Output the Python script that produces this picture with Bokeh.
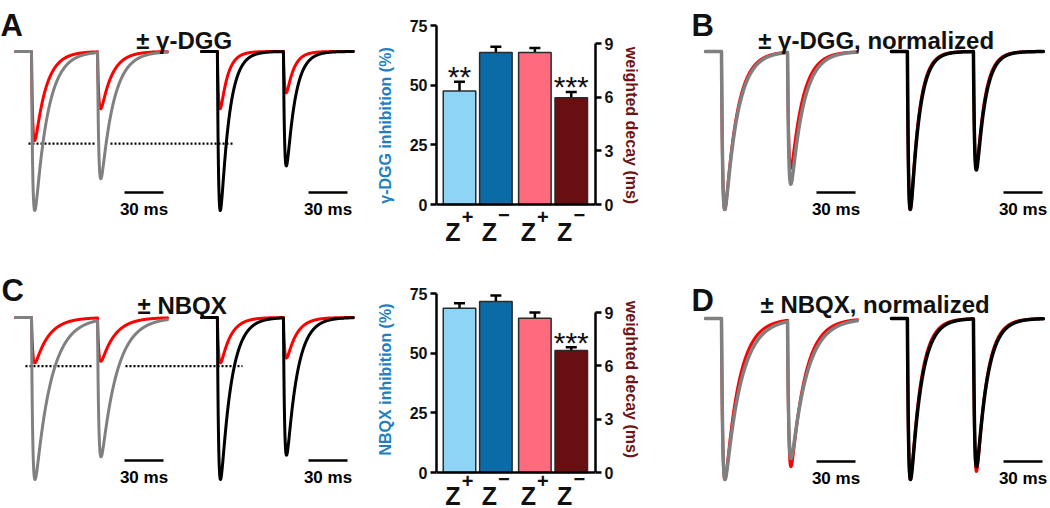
import numpy as np
from bokeh.plotting import figure
from bokeh.models import Range1d, LinearAxis, FixedTicker, Label, ColumnDataSource, Span
from bokeh.layouts import row, column
from bokeh.embed import file_html
from bokeh.resources import INLINE
from bokeh.core.properties import value

FONT = "Liberation Sans"

# ---------------- trace data (peaks normalised to control 1st EPSC) ----------------
# order: Z+ control, Z+ drug, Z- control, Z- drug
trace_colors = ["#808080", "#ff0000", "#000000", "#ff0000"]
stim_times = [12.3, 63.1]      # ms from sweep start
sweep_len = 117.0              # ms
set_offset = 143.0             # ms between Z+ and Z- sweeps on the page
rise_tau = 1.0                 # ms
scale_bar_ms = 30

A_peak1 = [1.00, 0.56, 1.00, 0.36]
A_peak2 = [0.80, 0.36, 0.72, 0.26]
A_tau = [9.5, 8.5, 6.5, 5.5]
A_dotted = -0.58

B_peak1 = [1.00, 1.00, 1.00, 1.00]
B_peak2 = [0.84, 0.74, 0.75, 0.73]
B_tau = [9.5, 9.0, 6.5, 6.2]

C_peak1 = [1.00, 0.28, 1.00, 0.28]
C_peak2 = [0.86, 0.27, 0.85, 0.25]
C_tau = [12.0, 10.5, 8.0, 7.5]
C_dotted = -0.30

D_peak1 = [1.00, 1.00, 1.00, 1.00]
D_peak2 = [0.87, 0.92, 0.92, 0.95]
D_tau = [12.0, 10.5, 8.0, 7.5]

# ---------------- bar data ----------------
bar_colors = ["#8dd4f6", "#0a6ba6", "#ff6a7e", "#6a0f11"]
bar_pos = [1.0, 1.97, 3.01, 3.98]
dgg_inhibition = [47.6, 63.7]
dgg_inhibition_err = [3.8, 2.4]
dgg_decay = [8.50, 5.97]
dgg_decay_err = [0.25, 0.32]
dgg_stars = ["**", "", "", "***"]

nbqx_inhibition = [68.8, 71.6]
nbqx_inhibition_err = [2.1, 2.6]
nbqx_decay = [8.68, 6.86]
nbqx_decay_err = [0.32, 0.18]
nbqx_stars = ["", "", "", "***"]

# ---------------- page geometry ----------------
col_w = [372, 280, 398]
row_h = [250, 258]


def epsc_shape(t, tau_d, tau_r=rise_tau):
    tp = np.log(tau_d / tau_r) * tau_d * tau_r / (tau_d - tau_r)
    norm = np.exp(-tp / tau_d) - np.exp(-tp / tau_r)
    tt = np.clip(t, 0, None)
    y = (np.exp(-tt / tau_d) - np.exp(-tt / tau_r)) / norm
    return np.where(t > 0, y, 0.0), tp


def sweep(p1, p2, tau):
    t = np.arange(0.0, sweep_len, 0.1)
    s1, s2 = stim_times
    e1, tp = epsc_shape(t - s1, tau)
    r, _ = epsc_shape(np.array([s2 - s1 + tp]), tau)
    e2, _ = epsc_shape(t - s2, tau)
    y = -p1 * e1 - (p2 - p1 * r[0]) * e2
    return t, y


def base_fig(w, h, xr, yr, **kw):
    p = figure(width=w, height=h, x_range=xr, y_range=yr,
               x_axis_location=None, y_axis_location=None,
               toolbar_location=None, output_backend="svg",
               outline_line_color=None, **kw)
    p.grid.visible = False
    p.background_fill_color = "white"
    p.border_fill_color = "white"
    return p


def trace_panel(box, w, h, ox, oy, ky, peak1, peak2, tau, order, letter, title,
                title_x, title_y, letter_x, letter_y, bars_x, bar_y, dotted=None,
                lw=(3, 3, 3, 3), kx=1.3):
    X0, Y0, X1, Y1 = box
    p = base_fig(w, h, Range1d((X0 - ox) / kx, (X1 - ox) / kx),
                 Range1d((oy - Y1) / ky, (oy - Y0) / ky), min_border=0)
    tx = lambda rx: (rx - ox) / kx
    ty = lambda ry: (oy - ry) / ky

    if dotted is not None:
        level, segs = dotted
        p.segment(x0=[tx(a) for a, b in segs], x1=[tx(b) for a, b in segs],
                  y0=[level] * len(segs), y1=[level] * len(segs),
                  line_color="black", line_width=2.2, line_dash="2 2")

    for i in order:
        t, y = sweep(peak1[i], peak2[i], tau[i])
        if i >= 2:
            t = t + set_offset
        p.line(t, y, line_color=trace_colors[i], line_width=lw[i],
               line_join="round", line_cap="round")

    for bx in bars_x:
        x0 = tx(bx)
        p.segment(x0=[x0], x1=[x0 + scale_bar_ms], y0=[ty(bar_y)], y1=[ty(bar_y)],
                  line_color="black", line_width=2.5)
        p.add_layout(Label(x=x0 + scale_bar_ms / 2, y=ty(bar_y + 17), text="30 ms",
                           text_font=FONT, text_font_style="bold", text_font_size="17px",
                           text_color="black",
                           text_align="center", text_baseline="alphabetic"))

    p.add_layout(Label(x=tx(letter_x), y=ty(letter_y), text=letter, text_font=FONT,
                       text_font_style="bold", text_font_size="31px", text_color="#111111",
                       text_align="left", text_baseline="alphabetic"))
    p.add_layout(Label(x=tx(title_x), y=ty(title_y), text=title, text_font=FONT,
                       text_font_style="bold", text_font_size="24px", text_color="#111111",
                       text_align="center", text_baseline="alphabetic"))
    return p


def bar_panel(box, w, h, axis_left, axis_right, y0_ref, y75_ref, y9_ref, inhib, inhib_err,
              decay, decay_err, stars, ylabel, z_dy):
    X0, Y0, X1, Y1 = box
    bl = axis_left - X0
    fw = axis_right - axis_left
    br = w - bl - fw
    unit = 37.5
    xr0 = bar_pos[0] - 23 / unit
    xr1 = xr0 + fw / unit
    upd = 75.0 / (y0_ref - y75_ref)          # inhibition units per pixel
    dpd = 9.0 / (y0_ref - y9_ref)            # decay units per pixel
    p = base_fig(w, h, Range1d(xr0, xr1),
                 Range1d(-(Y1 - y0_ref) * upd, (y0_ref - Y0) * upd),
                 min_border_left=bl, min_border_right=br, min_border_top=0,
                 min_border_bottom=0)
    p.extra_y_ranges = {"decay": Range1d(-(Y1 - y0_ref) * dpd, (y0_ref - Y0) * dpd)}
    bw = 0.867

    src_l = ColumnDataSource(dict(x=bar_pos[:2], top=inhib,
                                  err=[a + b for a, b in zip(inhib, inhib_err)],
                                  color=bar_colors[:2], star=stars[:2]))
    src_r = ColumnDataSource(dict(x=bar_pos[2:], top=decay,
                                  err=[a + b for a, b in zip(decay, decay_err)],
                                  color=bar_colors[2:], star=stars[2:]))
    for src, rn in ((src_l, "default"), (src_r, "decay")):
        p.segment(x0="x", x1="x", y0="top", y1="err", source=src, line_color="black",
                  line_width=2.5, y_range_name=rn)
        p.scatter(x="x", y="err", source=src, marker="dash", size=11, line_color="black",
                  line_width=2.5, y_range_name=rn)
        p.vbar(x="x", top="top", bottom=0, width=bw, source=src, fill_color="color",
               line_color="#2a2a2a", line_width=1.5, y_range_name=rn)
        p.text(x="x", y="err", text="star", source=src, text_font=value(FONT),
               text_font_size="30px", text_align="center", text_color="#111111",
               text_baseline="alphabetic", y_offset=-5, y_range_name=rn)

    p.add_layout(Span(location=0, dimension="width", line_color="black", line_width=2.5))

    ya = LinearAxis(ticker=FixedTicker(ticks=[0, 25, 50, 75]), bounds=(0, 75),
                    axis_label=ylabel)
    ya.axis_label_text_color = "#1f7fbf"
    ya.axis_label_standoff = 13
    p.add_layout(ya, "left")
    ra = LinearAxis(y_range_name="decay", ticker=FixedTicker(ticks=[0, 3, 6, 9]),
                    bounds=(0, 9), axis_label="weighted decay (ms)")
    ra.axis_label_text_color = "#6e1414"
    ra.axis_label_standoff = 7
    p.add_layout(ra, "right")
    for ax in (ya, ra):
        ax.axis_line_width = 2.5
        ax.axis_line_color = "black"
        ax.major_tick_out = 6
        ax.major_tick_in = 0
        ax.major_tick_line_width = 2.5
        ax.minor_tick_line_color = None
        ax.major_label_text_font = FONT
        ax.major_label_text_font_style = "bold"
        ax.major_label_text_font_size = "16px"
        ax.major_label_text_color = "#111111"
        ax.major_label_standoff = 3
        ax.axis_label_text_font = FONT
        ax.axis_label_text_font_style = "bold"
        ax.axis_label_text_font_size = "16px"

    # Z+ / Z- labels under the bars
    signs = ["+", "\u2212", "+", "\u2212"]
    zsrc = ColumnDataSource(dict(x=[b - 6.5 / unit for b in bar_pos],
                                 y=[-z_dy * upd] * 4, t=["Z"] * 4))
    ssrc = ColumnDataSource(dict(x=[b + 8 / unit for b in bar_pos],
                                 y=[-(z_dy - 15 if s == "+" else z_dy - 17) * upd for s in signs],
                                 t=signs))
    p.text(x="x", y="y", text="t", source=zsrc, text_font=value(FONT),
           text_font_size="25px", text_font_style="bold", text_align="center",
           text_color="#111111", text_baseline="alphabetic")
    p.text(x="x", y="y", text="t", source=ssrc, text_font=value(FONT),
           text_font_size="20px", text_font_style="bold", text_align="center",
           text_color="#111111", text_baseline="middle")
    return p


fA = trace_panel((0, 0, 372, 250), col_w[0], row_h[0], 15, 51, 159,
                 A_peak1, A_peak2, A_tau, [1, 0, 3, 2], "A", "\u00b1  \u03b3-DGG",
                 187, 40, 0, 25, [124, 308], 192,
                 dotted=(A_dotted, [(28, 95), (110, 232)]))
fbA = bar_panel((372, 0, 652, 250), col_w[1], row_h[0], 436, 595, 204, 25, 43,
                dgg_inhibition, dgg_inhibition_err, dgg_decay, dgg_decay_err, dgg_stars,
                "\u03b3-DGG inhibition (%)", 27)
fB = trace_panel((652, 0, 1050, 250), col_w[2], row_h[0], 705, 51, 158,
                 B_peak1, B_peak2, B_tau, [1, 0, 3, 2], "B", "\u00b1  \u03b3-DGG, normalized",
                 879, 40, 691, 25, [816, 1003], 192, lw=(3.5, 3, 3.5, 3))

fC = trace_panel((0, 250, 372, 508), col_w[0], row_h[1], 15, 317, 162,
                 C_peak1, C_peak2, C_tau, [1, 0, 3, 2], "C", "\u00b1  NBQX",
                 185, 305, 1, 290, [124, 308], 460,
                 dotted=(C_dotted, [(25, 92), (125, 242)]))
fbC = bar_panel((372, 250, 652, 508), col_w[1], row_h[1], 436, 595, 472, 293, 312,
                nbqx_inhibition, nbqx_inhibition_err, nbqx_decay, nbqx_decay_err, nbqx_stars,
                "NBQX inhibition (%)", 23)
fD = trace_panel((652, 250, 1050, 508), col_w[2], row_h[1], 705, 318, 161,
                 D_peak1, D_peak2, D_tau, [1, 0, 3, 2], "D", "\u00b1  NBQX, normalized",
                 878, 304, 691, 300, [816, 1003], 461, lw=(3.5, 3, 3.5, 3))

layout = column(row(fA, fbA, fB), row(fC, fbC, fD))
open("out.html", "w").write(file_html(layout, INLINE))
